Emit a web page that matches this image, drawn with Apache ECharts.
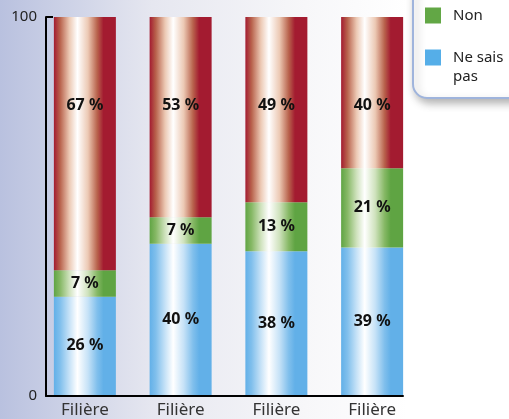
<!DOCTYPE html>
<html>
<head>
<meta charset="utf-8">
<script src="https://cdn.jsdelivr.net/npm/echarts@6/dist/echarts.min.js"></script>
<style>
  html, body { margin: 0; padding: 0; }
  #chart { width: 509px; height: 419px; }
</style>
</head>
<body>
<div id="chart"></div>
<script>
const categories = ['Filière', 'Filière', 'Filière', 'Filière'];
const nesaispas = [26, 40, 38, 39];
const non = [7, 7, 13, 21];
const oui = [67, 53, 49, 40];
const yTicks = [0, 100];

function stripe(dark, mid, light) {
  return new echarts.graphic.LinearGradient(0, 0, 1, 0, [
    { offset: 0, color: dark },
    { offset: 0.1, color: mid },
    { offset: 0.25, color: light },
    { offset: 0.38, color: '#ffffff' },
    { offset: 0.55, color: light },
    { offset: 0.7, color: mid },
    { offset: 0.8, color: dark },
    { offset: 1, color: dark }
  ]);
}

const labelStyle = {
  show: true,
  formatter: '{c} %',
  color: '#111',
  fontSize: 16,
  fontWeight: 'bold',
  fontFamily: 'Noto Sans'
};

const myChart = echarts.init(document.getElementById('chart'));

const option = {
  backgroundColor: new echarts.graphic.LinearGradient(0, 0, 1, 0, [
    { offset: 0, color: '#b9c1df' },
    { offset: 0.3, color: '#e6e7f0' },
    { offset: 0.6, color: '#f7f7f9' },
    { offset: 0.8, color: '#ffffff' }
  ]),
  animation: false,
  legend: {
    orient: 'vertical',
    left: 413,
    top: -20,
    padding: [26, 30, 12, 12],
    itemGap: 4,
    itemWidth: 16,
    itemHeight: 16,
    icon: 'rect',
    backgroundColor: '#ffffff',
    borderColor: '#9fb4dc',
    borderWidth: 2,
    borderRadius: 14,
    shadowBlur: 8,
    shadowColor: 'rgba(0,0,0,0.3)',
    shadowOffsetX: 3,
    shadowOffsetY: 4,
    textStyle: {
      color: '#222',
      fontSize: 15,
      lineHeight: 19,
      fontFamily: 'Noto Sans',
      padding: [0, 0, 0, 7]
    },
    formatter: function (name) {
      return name === 'Ne sais pas' ? '\nNe sais\npas' : name;
    },
    data: [
      { name: 'Non', itemStyle: { color: '#62a745' } },
      { name: 'Ne sais pas', itemStyle: { color: '#55aee8' } }
    ]
  },
  grid: [
    { left: 37, right: 89, top: 17, bottom: 23 },
    { left: 46, right: 106, top: 17, bottom: 23 }
  ],
  xAxis: [
    {
      type: 'category',
      gridIndex: 0,
      data: categories,
      axisLine: { show: false },
      axisTick: { show: false },
      axisLabel: { color: '#333', fontSize: 17, fontFamily: 'Noto Sans', margin: 7 }
    },
    {
      type: 'value',
      gridIndex: 1,
      axisLine: { show: true, lineStyle: { color: '#000', width: 2 } },
      axisTick: { show: false },
      axisLabel: { show: false },
      splitLine: { show: false }
    }
  ],
  yAxis: [
    {
      type: 'value',
      gridIndex: 0,
      min: yTicks[0],
      max: yTicks[1],
      show: false
    },
    {
      type: 'value',
      gridIndex: 1,
      min: yTicks[0],
      max: yTicks[1],
      interval: yTicks[1] - yTicks[0],
      axisLine: { show: true, lineStyle: { color: '#000', width: 2 } },
      axisTick: { show: true, inside: true, length: 7, lineStyle: { color: '#000', width: 2 } },
      axisLabel: { color: '#222', fontSize: 15, fontFamily: 'Noto Sans', margin: 9 },
      splitLine: { show: false }
    }
  ],
  series: [
    {
      name: 'Ne sais pas',
      type: 'bar',
      stack: 'total',
      barWidth: 62,
      data: nesaispas,
      itemStyle: { color: stripe('#62b0e8', '#80bfec', '#c6e2f7') },
      label: Object.assign({ position: 'inside' }, labelStyle)
    },
    {
      name: 'Non',
      type: 'bar',
      stack: 'total',
      barWidth: 62,
      data: non,
      itemStyle: { color: stripe('#5fa443', '#86b865', '#cfe2bd') },
      label: Object.assign({ position: 'inside' }, labelStyle)
    },
    {
      name: 'Oui',
      type: 'bar',
      stack: 'total',
      barWidth: 62,
      data: oui,
      itemStyle: { color: stripe('#a31b30', '#b8624c', '#ecc9b4') },
      label: Object.assign({ position: 'insideTop', distance: 80 }, labelStyle)
    }
  ]
};

myChart.setOption(option);
</script>
</body>
</html>
